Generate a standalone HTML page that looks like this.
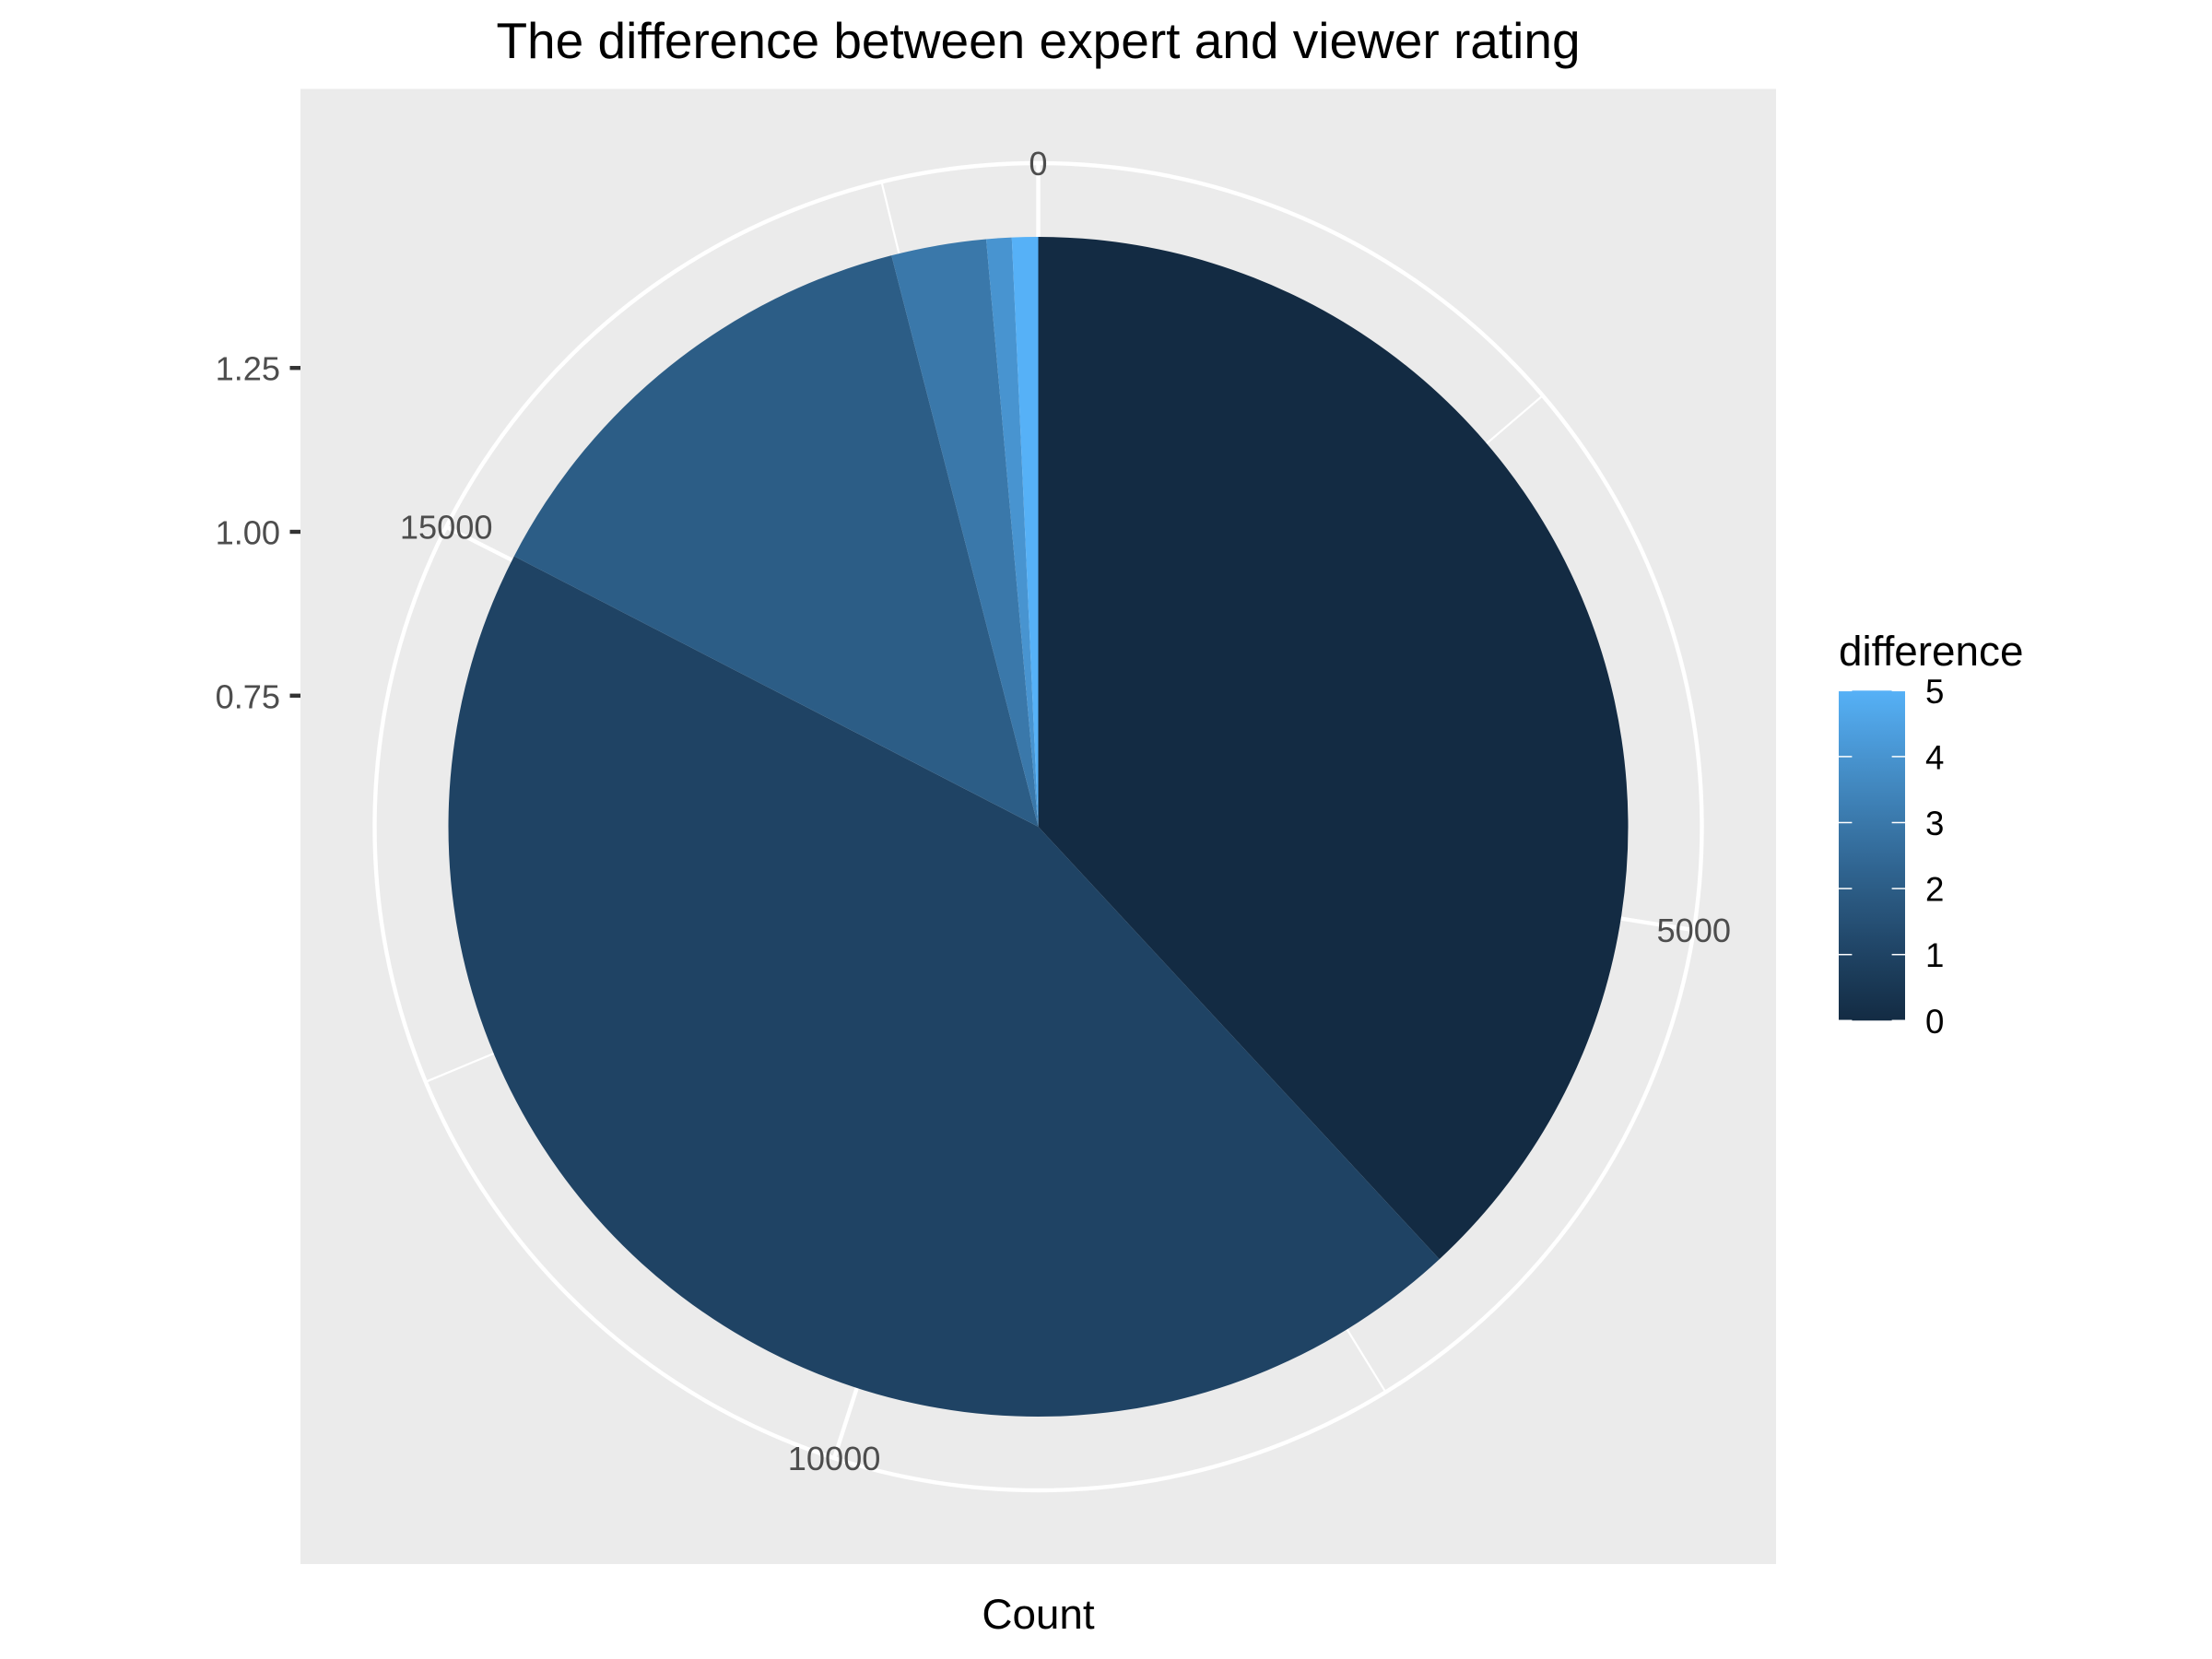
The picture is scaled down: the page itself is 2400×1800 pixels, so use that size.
<!DOCTYPE html>
<html lang="en">
<head>
<meta charset="utf-8">
<title>The difference between expert and viewer rating</title>
<style>
html,body{margin:0;padding:0;background:#fff;width:2400px;height:1800px;overflow:hidden}
svg{display:block}
text{font-family:"Liberation Sans",Arial,sans-serif}
</style>
</head>
<body>
<svg id="chart" xmlns="http://www.w3.org/2000/svg" width="2400" height="1800" viewBox="0 0 2400 1800">
  <rect x="0" y="0" width="2400" height="1800" fill="#ffffff"/>
  <rect x="326" y="96.5" width="1601" height="1600.5" fill="#ebebeb"/>
  <g id="grid"></g>
  <g id="slices"></g>
  <g id="theta-labels"></g>
  <g id="y-axis"></g>
  <text x="1126.5" y="63" font-size="55" text-anchor="middle" fill="#000">The difference between expert and viewer rating</text>
  <text x="1126.5" y="1767" font-size="45.83" text-anchor="middle" fill="#000">Count</text>
  <text x="1995" y="722" font-size="45.83" fill="#000">difference</text>
  <defs><linearGradient id="legend-gradient" x1="0" y1="1" x2="0" y2="0"></linearGradient></defs>
  <g id="legend"></g>
</svg>
<script>
// ---- data ----
const differences = [0, 1, 2, 3, 4, 5];
const counts = [6930, 8092, 2440, 472, 126, 130];
const thetaMajorBreaks = [0, 5000, 10000, 15000];
const thetaMinorBreaks = [2500, 7500, 12500, 17500];
const thetaLabels = ["0", "5000", "10000", "15000"];
const yBreaks = [0.75, 1.0, 1.25];
const yLabels = ["0.75", "1.00", "1.25"];
const legendBreaks = [0, 1, 2, 3, 4, 5];
const barX = 1;
const barWidth = 0.9;

// ---- geometry ----
const NS = "http://www.w3.org/2000/svg";
const CX = 1126.5, CY = 897, RING = 720, RUNIT = 711.1;
const total = counts.reduce((a, b) => a + b, 0);
const thetaScale = c => (c / total) * 2 * Math.PI;
const rScale = x => 320 + (x - 1) * RUNIT;
const px = (t, r) => CX + r * Math.sin(t);
const py = (t, r) => CY - r * Math.cos(t);

function mk(tag, attrs, parent) {
  const el = document.createElementNS(NS, tag);
  for (const k in attrs) el.setAttribute(k, attrs[k]);
  parent.appendChild(el);
  return el;
}

// ---- colour scale: Lab interpolation between the two end colours ----
function rgb2lab(h) {
  const c = [1, 3, 5].map(i => parseInt(h.substr(i, 2), 16) / 255)
    .map(v => v > 0.04045 ? Math.pow((v + 0.055) / 1.055, 2.4) : v / 12.92);
  const X = (0.4124 * c[0] + 0.3576 * c[1] + 0.1805 * c[2]) / 0.95047;
  const Y = 0.2126 * c[0] + 0.7152 * c[1] + 0.0722 * c[2];
  const Z = (0.0193 * c[0] + 0.1192 * c[1] + 0.9505 * c[2]) / 1.08883;
  const f = t => t > 0.008856 ? Math.cbrt(t) : 7.787 * t + 16 / 116;
  return [116 * f(Y) - 16, 500 * (f(X) - f(Y)), 200 * (f(Y) - f(Z))];
}
function lab2rgb(l) {
  const fy = (l[0] + 16) / 116, fx = l[1] / 500 + fy, fz = fy - l[2] / 200;
  const g = t => t * t * t > 0.008856 ? t * t * t : (t - 16 / 116) / 7.787;
  const X = g(fx) * 0.95047, Y = g(fy), Z = g(fz) * 1.08883;
  const lin = [3.2406 * X - 1.5372 * Y - 0.4986 * Z, -0.9689 * X + 1.8758 * Y + 0.0415 * Z, 0.0557 * X - 0.204 * Y + 1.057 * Z];
  const out = lin.map(v => {
    const s = v > 0.0031308 ? 1.055 * Math.pow(v, 1 / 2.4) - 0.055 : 12.92 * v;
    return Math.max(0, Math.min(255, Math.round(s * 255)));
  });
  return "rgb(" + out.join(",") + ")";
}
const labLow = rgb2lab("#132B43"), labHigh = rgb2lab("#56B1F7");
const colorScale = d => {
  const t = d / 5;
  return lab2rgb(labLow.map((v, i) => v + (labHigh[i] - v) * t));
};

// ---- grid ----
const grid = document.getElementById("grid");
thetaMinorBreaks.forEach(b => {
  const t = thetaScale(b);
  const el = mk("line", { x1: CX, y1: CY, x2: px(t, RING), y2: py(t, RING), stroke: "#fff", "stroke-width": 2.2 }, grid);
  
  
});
thetaMajorBreaks.forEach(b => {
  const t = thetaScale(b);
  const el = mk("line", { x1: CX, y1: CY, x2: px(t, RING), y2: py(t, RING), stroke: "#fff", "stroke-width": 4.4 }, grid);
  
  
});
yBreaks.forEach(b => {
  const el = mk("circle", { cx: CX, cy: CY, r: rScale(b), fill: "none", stroke: "#fff", "stroke-width": 4.4 }, grid);
  
  
});
const ring = mk("circle", { cx: CX, cy: CY, r: RING, fill: "none", stroke: "#fff", "stroke-width": 4.4 }, grid);



// ---- slices ----
const slices = document.getElementById("slices");
let cum = 0;
counts.forEach((c, i) => {
  const t0 = thetaScale(cum), t1 = thetaScale(cum + c);
  cum += c;
  const R = rScale(barX + barWidth / 2);
  const large = t1 - t0 > Math.PI ? 1 : 0;
  const d = "M" + CX + " " + CY + "L" + px(t0, R) + " " + py(t0, R) +
    "A" + R + " " + R + " 0 " + large + " 1 " + px(t1, R) + " " + py(t1, R) + "Z";
  const el = mk("path", { d: d, fill: colorScale(differences[i]) }, slices);
  
  
});

// ---- theta labels ----
const tl = document.getElementById("theta-labels");
thetaMajorBreaks.forEach((b, i) => {
  const t = thetaScale(b);
  const el = mk("text", { x: px(t, RING), y: py(t, RING) + 13, "font-size": 36.2, "text-anchor": "middle", fill: "#4d4d4d" }, tl);
  el.textContent = thetaLabels[i];
  
  
});

// ---- y axis ----
const ya = document.getElementById("y-axis");
yBreaks.forEach((b, i) => {
  const y = CY - rScale(b);
  const tick = mk("line", { x1: 314.5, x2: 326, y1: y, y2: y, stroke: "#333333", "stroke-width": 4.4 }, ya);
  
  
  const lab = mk("text", { x: 304, y: y + 13.5, "font-size": 36.2, "text-anchor": "end", fill: "#4d4d4d" }, ya);
  lab.textContent = yLabels[i];
  
  
});

// ---- legend ----
const grad = document.getElementById("legend-gradient");
for (let s = 0; s <= 20; s++) {
  mk("stop", { offset: (s / 20 * 100) + "%", "stop-color": colorScale(s / 4) }, grad);
}
const legend = document.getElementById("legend");
const LX = 1995, LW = 72, L0 = 1107.3, L5 = 749.3;
const legendY = v => L0 + (L5 - L0) * v / 5;
const bar = mk("rect", { x: LX, y: L5, width: LW, height: L0 - L5, fill: "url(#legend-gradient)" }, legend);


legendBreaks.forEach(v => {
  const y = legendY(v);
  [[LX, LX + 14.4], [LX + LW - 14.4, LX + LW]].forEach(p => {
    const tk = mk("line", { x1: p[0], x2: p[1], y1: y, y2: y, stroke: "#fff", "stroke-width": 1.5 }, legend);
    
    
  });
  const lab = mk("text", { x: 2089, y: y + 13.5, "font-size": 36.67, fill: "#000" }, legend);
  lab.textContent = String(v);
  
  
});
</script>
</body>
</html>
